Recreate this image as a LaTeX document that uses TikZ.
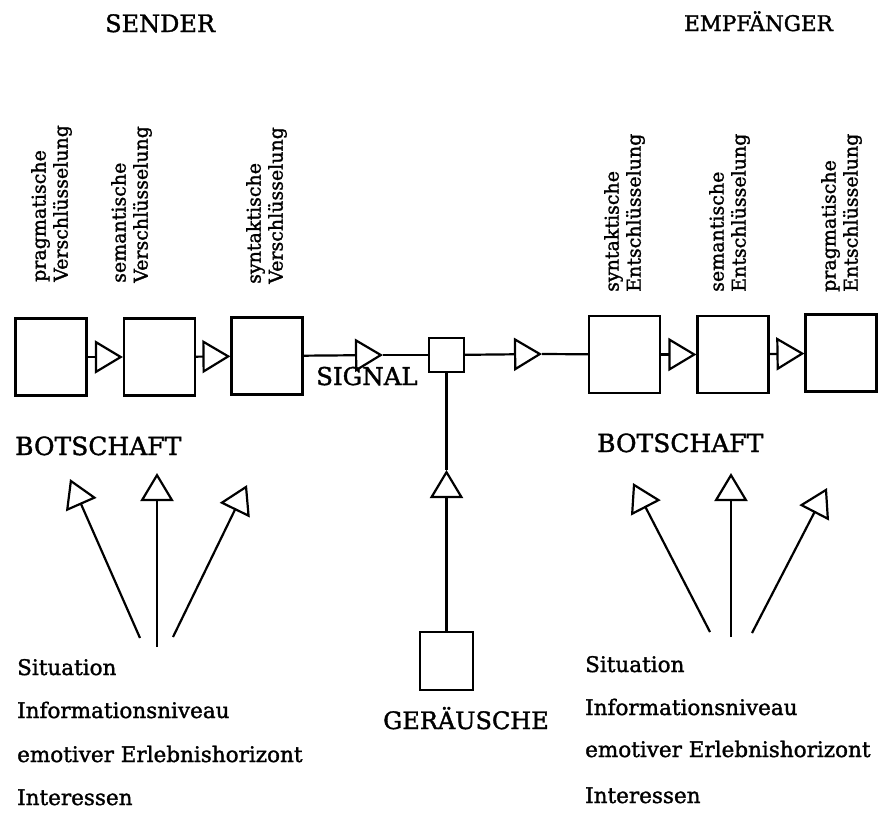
\documentclass[tikz,border=0pt]{standalone}
\usepackage{fontspec}
\setmainfont{DejaVu Serif}[FakeBold=1.5]
\usetikzlibrary{arrows.meta}
\begin{document}
\begin{tikzpicture}[x=1pt,y=-1pt,
  box/.style={draw,line width=2.2pt,minimum width=71pt,minimum height=77pt,inner sep=0pt},
  smallbox/.style={draw,line width=2.2pt,minimum width=35pt,minimum height=34pt,inner sep=0pt},
  noisebox/.style={draw,line width=2.2pt,minimum width=53pt,minimum height=58pt,inner sep=0pt},
  ln/.style={line width=2.2pt},
  tri/.style={line width=2.2pt,-{Triangle[open,length=28pt,width=33pt]}},
  rot/.style={rotate=90,anchor=north west,align=left,inner sep=0pt,font=\fontsize{19}{22}\selectfont},
  head/.style={anchor=base west,inner sep=0pt,font=\fontsize{24}{28}\selectfont},
  lst/.style={anchor=base west,inner sep=0pt,font=\fontsize{21.5}{24}\selectfont}]
\useasboundingbox (0,0) rectangle (883,812);
% headers
\node[head] (sender) at (105,32) {SENDER};
\node[head,font=\fontsize{21.5}{24}\selectfont] (empf) at (684,31) {EMPFÄNGER};
% rotated labels
\node[rot] (t1) at (31,282) {pragmatische\\Verschlüsselung};
\node[rot] (t2) at (111,283) {semantische\\Verschlüsselung};
\node[rot] (t3) at (246,284) {syntaktische\\Verschlüsselung};
\node[rot] (t4) at (604,292) {syntaktische\\Entschlüsselung};
\node[rot] (t5) at (709,292) {semantische\\Entschlüsselung};
\node[rot] (t6) at (821,292) {pragmatische\\Entschlüsselung};
% boxes
\node[box] (b1) at (51,357) {};
\node[box] (b2) at (159.5,357) {};
\node[box] (b3) at (267,356) {};
\node[smallbox] (s) at (446.5,355) {};
\node[box] (b4) at (624.5,354.5) {};
\node[box] (b5) at (733,354.5) {};
\node[box] (b6) at (841,353) {};
\node[noisebox] (g) at (446.5,661) {};
\coordinate (m1) at (383,355);
\coordinate (m2) at (542,354);
\coordinate (m3) at (446.5,470);
\draw[tri] (b1) -- (b2);
\draw[tri] (b2) -- (b3);
\draw[tri] (b3) -- (m1);
\draw[ln] (m1) -- (s);
\draw[tri] (s) -- (m2);
\draw[ln] (m2) -- (b4);
\draw[tri] (b4) -- (b5);
\draw[tri] (b5) -- (b6);
\draw[tri] (g) -- (m3);
\draw[ln] (m3) -- (s);
% labels
\node[head,font=\fontsize{24.5}{28}\selectfont] (signal) at (316,385) {SIGNAL};
\node[head,font=\fontsize{25}{28}\selectfont] (bl) at (15,455) {BOTSCHAFT};
\node[head,font=\fontsize{25}{28}\selectfont] (br) at (597,452) {BOTSCHAFT};
\node[head] (noise) at (383,729) {GERÄUSCHE};
% fan arrows left
\coordinate (l1s) at (140,638); \coordinate (l1t) at (70,479);
\coordinate (l2s) at (157,647); \coordinate (l2t) at (157,473);
\coordinate (l3s) at (173,637); \coordinate (l3t) at (247,485);
\draw[tri] (l1s) -- (l1t);
\draw[tri] (l2s) -- (l2t);
\draw[tri] (l3s) -- (l3t);
% fan arrows right
\coordinate (r1s) at (710,632); \coordinate (r1t) at (633,483);
\coordinate (r2s) at (731,637); \coordinate (r2t) at (731,473);
\coordinate (r3s) at (752,633); \coordinate (r3t) at (827,488);
\draw[tri] (r1s) -- (r1t);
\draw[tri] (r2s) -- (r2t);
\draw[tri] (r3s) -- (r3t);
% lists
\node[lst] (ls1) at (17,675) {Situation};
\node[lst] (ls2) at (17,718) {Informationsniveau};
\node[lst] (ls3) at (17,762) {emotiver Erlebnishorizont};
\node[lst] (ls4) at (17,805) {Interessen};
\node[lst] (rs1) at (585,672) {Situation};
\node[lst] (rs2) at (585,715) {Informationsniveau};
\node[lst] (rs3) at (585,757) {emotiver Erlebnishorizont};
\node[lst] (rs4) at (585,803) {Interessen};
\end{tikzpicture}
\end{document}
